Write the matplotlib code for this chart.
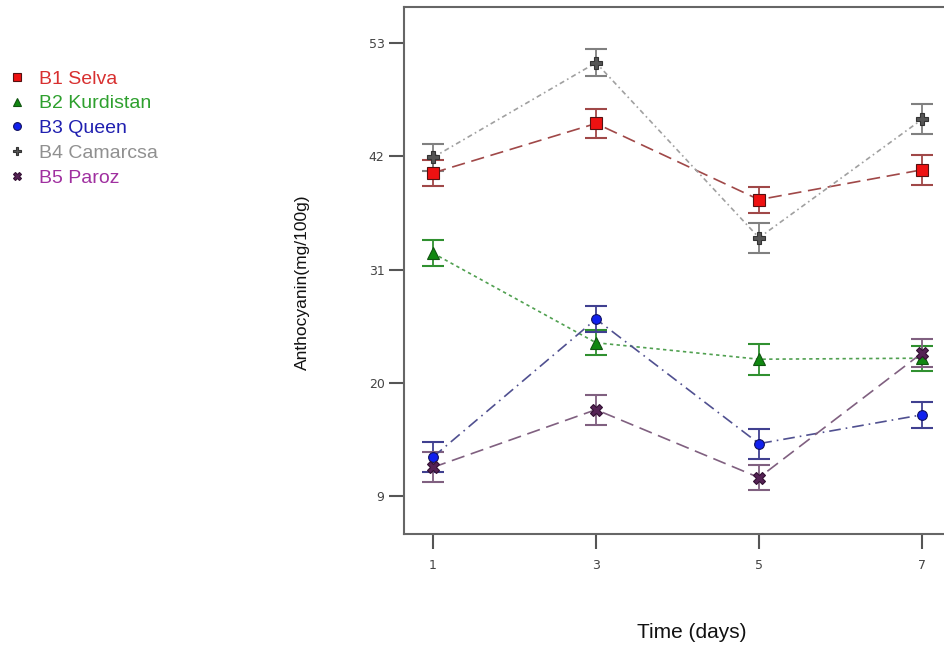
import matplotlib
matplotlib.use("Agg")
import matplotlib.pyplot as plt

# ── Data ─────────────────────────────────────────────────────────────────────
days = [1, 3, 5, 7]
labels = ["B1 Selva", "B2 Kurdistan", "B3 Queen", "B4 Camarcsa", "B5 Paroz"]

selva     = [40.4, 45.2, 37.8, 40.7]
kurdistan = [32.6, 23.9, 22.3, 22.4]
queen     = [12.8, 26.2, 14.1, 16.9]
camarosa  = [41.9, 51.1, 34.1, 45.6]
paroz     = [11.8, 17.4, 10.8, 22.9]

selva_err     = [1.3, 1.4, 1.25, 1.45]
kurdistan_err = [1.25, 1.2, 1.5, 1.2]
queen_err     = [1.45, 1.25, 1.45, 1.25]
camarosa_err  = [1.35, 1.3, 1.45, 1.45]
paroz_err     = [1.45, 1.45, 1.25, 1.4]

yticks = [9, 20, 31, 42, 53]

# ── Style per series ─────────────────────────────────────────────────────────
series = [
    dict(y=selva, e=selva_err, marker="s", mfc="#ee1111", mec="#551111", ms=8,
         line="#a04848", ls=(0, (8, 4)), ecol="#a04848", tcol="#d83030"),
    dict(y=kurdistan, e=kurdistan_err, marker="^", mfc="#118811", mec="#115511", ms=8,
         line="#50a050", ls=(0, (2, 2)), ecol="#309030", tcol="#2ea02e"),
    dict(y=queen, e=queen_err, marker="o", mfc="#1020ee", mec="#101060", ms=7,
         line="#505090", ls=(0, (7, 3, 1, 3)), ecol="#404090", tcol="#2020b0"),
    dict(y=camarosa, e=camarosa_err, marker="P", mfc="#555555", mec="#333333", ms=8,
         line="#a0a0a0", ls=(0, (3, 2, 1, 2)), ecol="#808080", tcol="#909090"),
    dict(y=paroz, e=paroz_err, marker="X", mfc="#552255", mec="#331133", ms=8,
         line="#806080", ls=(0, (8, 4)), ecol="#806080", tcol="#a030a0"),
]

fig = plt.figure(figsize=(9.45, 6.49), dpi=100)
ax = fig.add_axes([0.4275, 0.177, 0.5725, 0.812])

handles = []
for s, lab in zip(series, labels):
    ax.errorbar(days, s["y"], yerr=s["e"], fmt="none", ecolor=s["ecol"],
                elinewidth=1.3, capsize=8, capthick=1.5, zorder=2)
    ax.plot(days, s["y"], color=s["line"], linestyle=s["ls"], linewidth=1.2, zorder=3)
    h, = ax.plot(days, s["y"], linestyle="none", marker=s["marker"],
                 markerfacecolor=s["mfc"], markeredgecolor=s["mec"],
                 markersize=s["ms"], markeredgewidth=0.8, zorder=4)
    handles.append(h)

ax.set_xlim(0.644, 7.282)
ax.set_ylim(5.31, 56.5)
ax.set_xticks(days)
ax.set_yticks(yticks)
ax.tick_params(axis="both", length=11, width=1.5, color="#555555",
               labelsize=9, labelcolor="#444444", pad=3)
ax.tick_params(axis="x", pad=7)

for side in ["left", "bottom", "top"]:
    ax.spines[side].set_color("#666666")
    ax.spines[side].set_linewidth(1.5)
ax.spines["right"].set_visible(False)

fig.text(692 / 945, 1 - 633 / 649, "Time (days)", fontsize=15,
         family="Liberation Sans", ha="center", va="center", color="#111111")
fig.text(302 / 945, 1 - 282 / 649, "Anthocyanin(mg/100g)", fontsize=12.5,
         family="Liberation Sans", rotation=90, ha="center", va="center",
         color="#111111")

leg = fig.legend(handles, labels, loc="upper left", bbox_to_anchor=(-0.013, 0.919),
                 frameon=False, handletextpad=0.55, handlelength=1.2,
                 labelspacing=0.37, markerscale=0.8,
                 prop={"family": "Liberation Sans", "size": 14})
for txt, s in zip(leg.get_texts(), series):
    txt.set_color(s["tcol"])

fig.savefig("out.png", dpi=100)
